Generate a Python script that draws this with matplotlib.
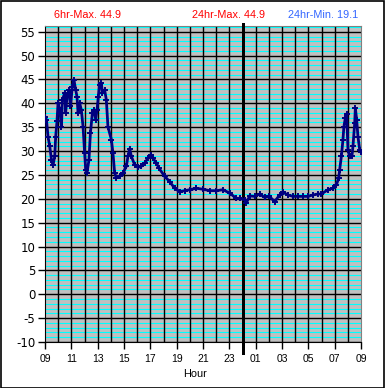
import matplotlib
matplotlib.use("Agg")
import matplotlib.pyplot as plt
from matplotlib.patches import Rectangle
import numpy as np

# Stunden seit 09:00 und Temperatur
hours = [
    0.00, 0.11, 0.23, 0.36, 0.49, 0.61, 0.74, 0.81, 0.91, 0.99,
    1.12, 1.25, 1.32, 1.50, 1.57, 1.67, 1.82, 1.93, 2.08, 2.20,
    2.33, 2.43, 2.51, 2.63, 2.76, 2.89, 3.01, 3.09, 3.19, 3.34,
    3.45, 3.60, 3.72, 3.85, 3.95, 4.05, 4.15, 4.28, 4.36, 4.53,
    4.66, 4.78, 5.04, 5.16, 5.29, 5.42, 5.67, 5.92, 6.18, 6.30,
    6.43, 6.56, 6.81, 7.06, 7.32, 7.57, 7.82, 8.03, 8.20, 8.46,
    8.66, 9.09, 9.47, 9.85, 10.23, 10.61, 10.99, 11.50, 12.00, 12.51,
    13.01, 13.52, 14.02, 14.53, 14.78, 15.16, 15.29, 15.54, 15.92, 16.30,
    16.68, 17.05, 17.44, 17.82, 18.07, 18.45, 18.83, 19.21, 19.59, 19.97,
    20.35, 20.73, 20.99, 21.49, 21.87, 22.13, 22.30, 22.38, 22.51, 22.63,
    22.70, 22.81, 22.91, 23.01, 23.14, 23.31, 23.39, 23.52, 23.57, 23.67,
    23.77, 23.90, 23.97,
]
temps = [
    37.2, 36.6, 33.0, 31.0, 28.2, 27.1, 28.9, 33.0, 36.2, 40.1,
    38.6, 35.1, 40.7, 42.2, 38.0, 41.4, 42.8, 39.4, 43.5, 44.9,
    42.8, 41.4, 38.0, 40.1, 38.6, 35.1, 29.6, 26.1, 25.4, 28.2,
    33.8, 38.0, 38.6, 36.6, 38.6, 41.4, 43.9, 44.2, 42.2, 42.8,
    40.7, 35.1, 32.4, 29.6, 25.4, 24.4, 24.7, 25.4, 26.8, 28.9,
    30.5, 28.9, 27.1, 26.6, 26.8, 27.5, 28.5, 29.1, 28.5, 27.5,
    26.4, 24.7, 23.6, 22.2, 21.5, 21.7, 21.9, 22.2, 22.0, 21.7,
    21.7, 21.9, 21.2, 20.1, 20.1, 19.8, 19.1, 20.6, 20.5, 21.0,
    20.3, 20.5, 19.4, 20.8, 21.4, 20.8, 20.5, 20.5, 20.5, 20.5,
    20.8, 21.0, 21.0, 21.9, 22.2, 22.9, 24.3, 26.1, 28.9, 32.4,
    35.1, 36.9, 37.8, 30.3, 28.9, 28.9, 31.0, 35.8, 39.0, 36.6,
    33.0, 30.3, 29.9,
]
tick_hours = [0, 2, 4, 6, 8, 10, 12, 14, 16, 18, 20, 22, 24]
tick_labels = ["09", "11", "13", "15", "17", "19", "21", "23",
               "01", "03", "05", "07", "09"]
y_ticks = list(range(-10, 60, 5))
midnight = 15
PX = 0.72  # ein Pixel in Punkten

fig = plt.figure(figsize=(3.85, 3.88), dpi=100)
ax = fig.add_axes([45 / 385, 1 - 342 / 388, 316 / 385, 316 / 388])
ax.set_facecolor("#c0c0c0")
ax.set_xlim(0, 24)
ax.set_ylim(-10, 56.2)

# Gitter: cyan jede Einheit, schwarz alle 5 und jede Stunde
for v in range(-9, 57):
    if v % 5:
        ax.axhline(v, color="#00ffff", lw=1.1 * PX, zorder=1)
for v in y_ticks:
    ax.axhline(v, color="black", lw=1.4 * PX, zorder=2)
for h in range(1, 24):
    ax.axvline(h, color="black", lw=1.4 * PX, zorder=2)
ax.axvline(midnight, ymin=-0.035, ymax=1.006, color="black", lw=3 * PX,
           zorder=4, clip_on=False)

ax.plot(hours, temps, color="#000080", lw=2.0, marker="+", ms=5, mew=1.4,
        zorder=5)

ax.set_xticks(tick_hours)
ax.set_xticklabels(tick_labels, fontsize=7.5, family="Liberation Sans")
ax.set_yticks(y_ticks)
ax.set_yticklabels([str(v) for v in y_ticks], fontsize=8.5,
                   family="DejaVu Sans")
ax.tick_params(direction="out", length=5, width=1, color="black", pad=2)
ax.tick_params(axis="x", pad=4)
for side in ("left", "bottom"):
    ax.spines[side].set_color("black")
for side in ("top", "right"):
    ax.spines[side].set_color("#808080")

fig.text(195 / 385, 1 - 374 / 388, "Hour", ha="center", va="center",
         fontsize=7.8, family="Liberation Sans")
fig.text(87 / 385, 1 - 15 / 388, "6hr-Max. 44.9", ha="center",
         va="center", fontsize=7.8, color="red", family="Liberation Sans")
fig.text(228 / 385, 1 - 15 / 388, "24hr-Max. 44.9", ha="center",
         va="center", fontsize=7.8, color="red", family="Liberation Sans")
fig.text(323 / 385, 1 - 15 / 388, "24hr-Min. 19.1", ha="center",
         va="center", fontsize=7.8, color="#3366ff", family="Liberation Sans")

fig.patches.append(Rectangle((0.5 / 385, 0.5 / 388), 383.5 / 385,
                             386.5 / 388, transform=fig.transFigure,
                             fill=False, edgecolor="black", lw=1.2))

fig.savefig("out.png", dpi=100)
